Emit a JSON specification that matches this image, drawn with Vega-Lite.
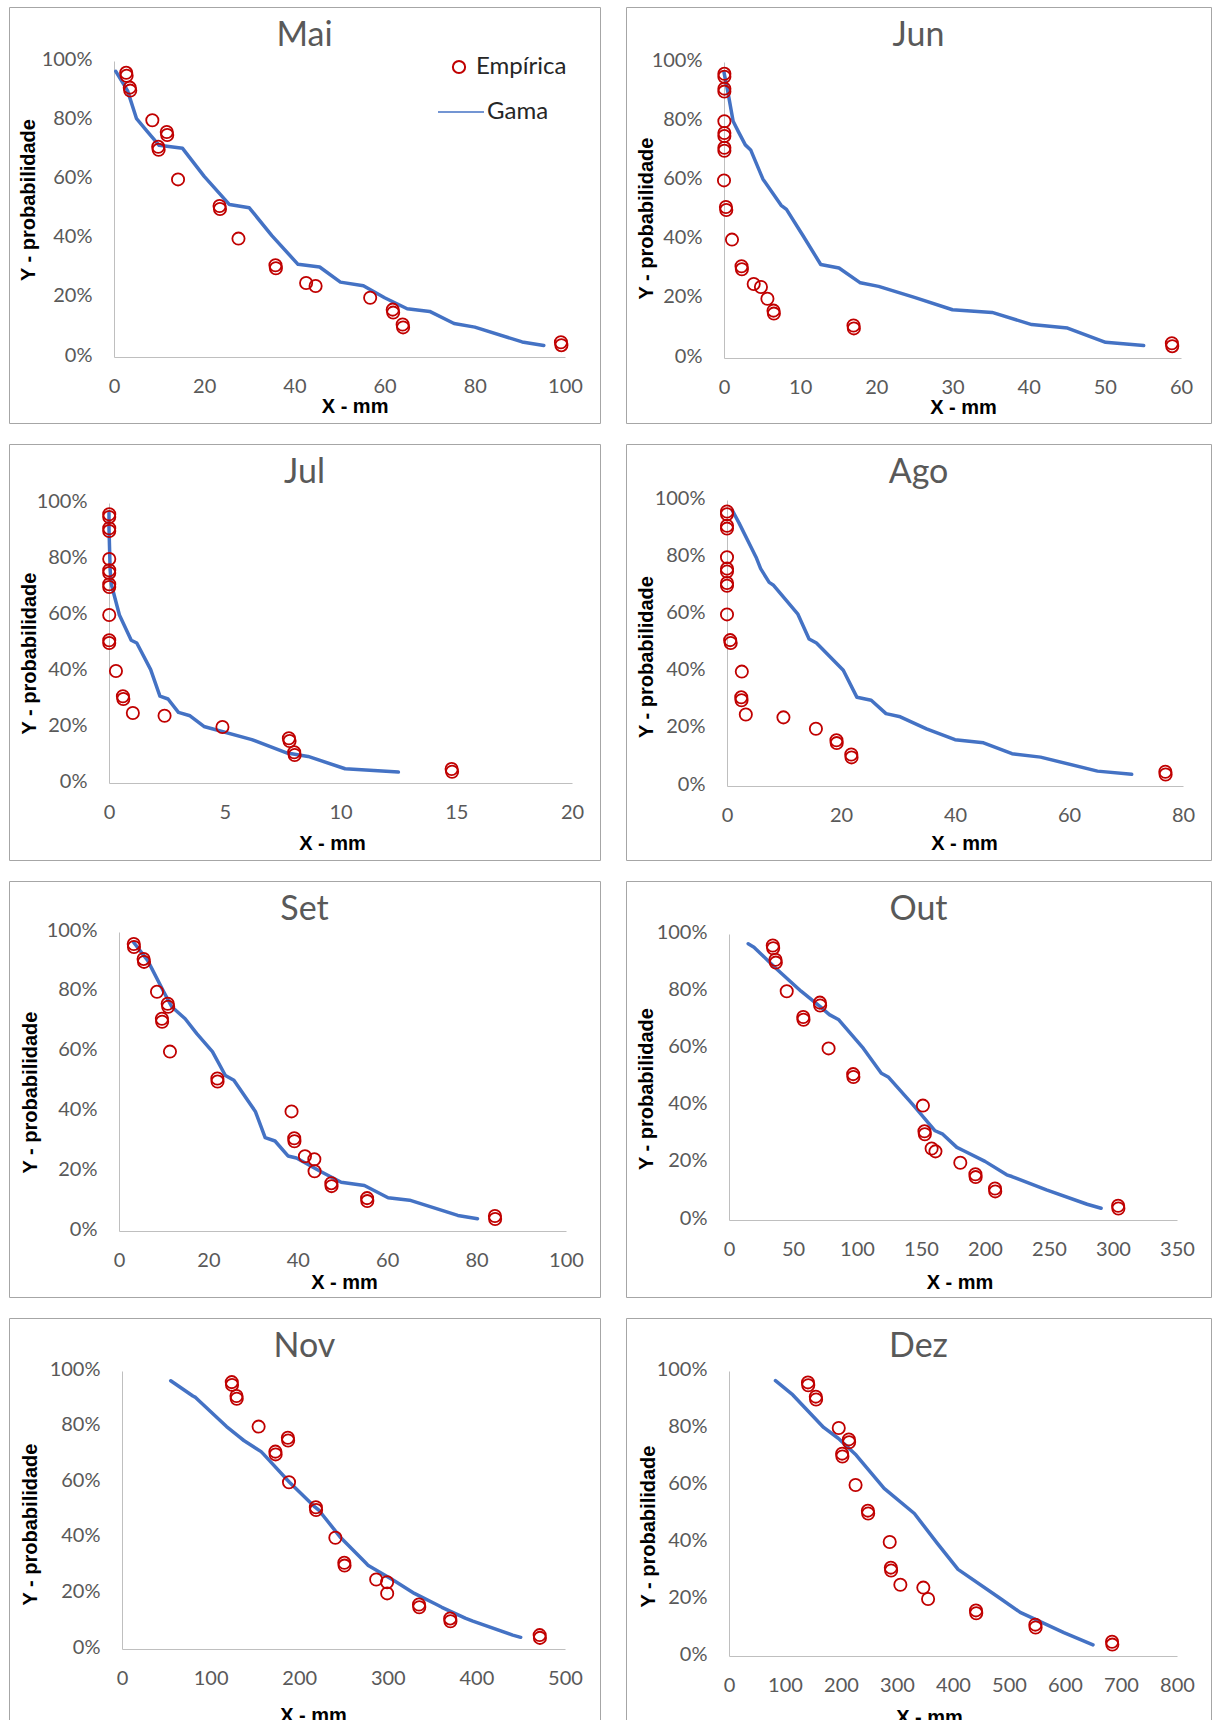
{
"$schema":"https://vega.github.io/schema/vega-lite/v6.json",
"padding":{"left":8,"top":6,"right":0,"bottom":0},
"background":"white",
"spacing":19,
"datasets":{"d":[
{"m":"Mai","s":"Empírica","x":2.7,"y":0.96},{"m":"Mai","s":"Empírica","x":2.8,"y":0.95},{"m":"Mai","s":"Empírica","x":3.5,"y":0.91},{"m":"Mai","s":"Empírica","x":3.6,"y":0.90},{"m":"Mai","s":"Empírica","x":8.5,"y":0.80},{"m":"Mai","s":"Empírica","x":11.7,"y":0.76},{"m":"Mai","s":"Empírica","x":11.8,"y":0.75},{"m":"Mai","s":"Empírica","x":9.8,"y":0.71},{"m":"Mai","s":"Empírica","x":9.9,"y":0.70},{"m":"Mai","s":"Empírica","x":14.2,"y":0.60},{"m":"Mai","s":"Empírica","x":23.4,"y":0.51},{"m":"Mai","s":"Empírica","x":23.5,"y":0.50},{"m":"Mai","s":"Empírica","x":27.6,"y":0.40},{"m":"Mai","s":"Empírica","x":35.8,"y":0.31},{"m":"Mai","s":"Empírica","x":35.9,"y":0.30},{"m":"Mai","s":"Empírica","x":42.6,"y":0.25},{"m":"Mai","s":"Empírica","x":44.7,"y":0.24},{"m":"Mai","s":"Empírica","x":56.8,"y":0.20},{"m":"Mai","s":"Empírica","x":61.8,"y":0.16},{"m":"Mai","s":"Empírica","x":61.9,"y":0.15},{"m":"Mai","s":"Empírica","x":64.0,"y":0.11},{"m":"Mai","s":"Empírica","x":64.1,"y":0.10},{"m":"Mai","s":"Empírica","x":99.1,"y":0.05},{"m":"Mai","s":"Empírica","x":99.2,"y":0.04},
{"m":"Jun","s":"Empírica","x":0.05,"y":0.96},{"m":"Jun","s":"Empírica","x":0.05,"y":0.95},{"m":"Jun","s":"Empírica","x":0.05,"y":0.91},{"m":"Jun","s":"Empírica","x":0.05,"y":0.90},{"m":"Jun","s":"Empírica","x":0.05,"y":0.80},{"m":"Jun","s":"Empírica","x":0.05,"y":0.76},{"m":"Jun","s":"Empírica","x":0.05,"y":0.75},{"m":"Jun","s":"Empírica","x":0.05,"y":0.71},{"m":"Jun","s":"Empírica","x":0.05,"y":0.70},{"m":"Jun","s":"Empírica","x":0.0,"y":0.60},{"m":"Jun","s":"Empírica","x":0.25,"y":0.51},{"m":"Jun","s":"Empírica","x":0.3,"y":0.50},{"m":"Jun","s":"Empírica","x":1.05,"y":0.40},{"m":"Jun","s":"Empírica","x":2.3,"y":0.31},{"m":"Jun","s":"Empírica","x":2.35,"y":0.30},{"m":"Jun","s":"Empírica","x":3.9,"y":0.25},{"m":"Jun","s":"Empírica","x":4.85,"y":0.24},{"m":"Jun","s":"Empírica","x":5.7,"y":0.20},{"m":"Jun","s":"Empírica","x":6.5,"y":0.16},{"m":"Jun","s":"Empírica","x":6.55,"y":0.15},{"m":"Jun","s":"Empírica","x":17.0,"y":0.11},{"m":"Jun","s":"Empírica","x":17.05,"y":0.10},{"m":"Jun","s":"Empírica","x":58.8,"y":0.05},{"m":"Jun","s":"Empírica","x":58.85,"y":0.04},
{"m":"Jul","s":"Empírica","x":0.01,"y":0.96},{"m":"Jul","s":"Empírica","x":0.01,"y":0.95},{"m":"Jul","s":"Empírica","x":0.01,"y":0.91},{"m":"Jul","s":"Empírica","x":0.01,"y":0.90},{"m":"Jul","s":"Empírica","x":0.01,"y":0.80},{"m":"Jul","s":"Empírica","x":0.01,"y":0.76},{"m":"Jul","s":"Empírica","x":0.01,"y":0.75},{"m":"Jul","s":"Empírica","x":0.01,"y":0.71},{"m":"Jul","s":"Empírica","x":0.01,"y":0.70},{"m":"Jul","s":"Empírica","x":0.01,"y":0.60},{"m":"Jul","s":"Empírica","x":0.01,"y":0.51},{"m":"Jul","s":"Empírica","x":0.01,"y":0.50},{"m":"Jul","s":"Empírica","x":0.3,"y":0.40},{"m":"Jul","s":"Empírica","x":0.6,"y":0.31},{"m":"Jul","s":"Empírica","x":0.62,"y":0.30},{"m":"Jul","s":"Empírica","x":1.03,"y":0.25},{"m":"Jul","s":"Empírica","x":2.4,"y":0.24},{"m":"Jul","s":"Empírica","x":4.9,"y":0.20},{"m":"Jul","s":"Empírica","x":7.77,"y":0.16},{"m":"Jul","s":"Empírica","x":7.8,"y":0.15},{"m":"Jul","s":"Empírica","x":8.0,"y":0.11},{"m":"Jul","s":"Empírica","x":8.02,"y":0.10},{"m":"Jul","s":"Empírica","x":14.8,"y":0.05},{"m":"Jul","s":"Empírica","x":14.82,"y":0.04},
{"m":"Ago","s":"Empírica","x":0.0,"y":0.96},{"m":"Ago","s":"Empírica","x":0.0,"y":0.95},{"m":"Ago","s":"Empírica","x":0.0,"y":0.91},{"m":"Ago","s":"Empírica","x":0.0,"y":0.90},{"m":"Ago","s":"Empírica","x":0.0,"y":0.80},{"m":"Ago","s":"Empírica","x":0.0,"y":0.76},{"m":"Ago","s":"Empírica","x":0.0,"y":0.75},{"m":"Ago","s":"Empírica","x":0.0,"y":0.71},{"m":"Ago","s":"Empírica","x":0.0,"y":0.70},{"m":"Ago","s":"Empírica","x":0.0,"y":0.60},{"m":"Ago","s":"Empírica","x":0.55,"y":0.51},{"m":"Ago","s":"Empírica","x":0.65,"y":0.50},{"m":"Ago","s":"Empírica","x":2.6,"y":0.40},{"m":"Ago","s":"Empírica","x":2.5,"y":0.31},{"m":"Ago","s":"Empírica","x":2.55,"y":0.30},{"m":"Ago","s":"Empírica","x":3.3,"y":0.25},{"m":"Ago","s":"Empírica","x":9.9,"y":0.24},{"m":"Ago","s":"Empírica","x":15.6,"y":0.20},{"m":"Ago","s":"Empírica","x":19.2,"y":0.16},{"m":"Ago","s":"Empírica","x":19.25,"y":0.15},{"m":"Ago","s":"Empírica","x":21.8,"y":0.11},{"m":"Ago","s":"Empírica","x":21.85,"y":0.10},{"m":"Ago","s":"Empírica","x":76.9,"y":0.05},{"m":"Ago","s":"Empírica","x":76.95,"y":0.04},
{"m":"Set","s":"Empírica","x":3.3,"y":0.96},{"m":"Set","s":"Empírica","x":3.35,"y":0.95},{"m":"Set","s":"Empírica","x":5.5,"y":0.91},{"m":"Set","s":"Empírica","x":5.6,"y":0.90},{"m":"Set","s":"Empírica","x":8.5,"y":0.80},{"m":"Set","s":"Empírica","x":10.9,"y":0.76},{"m":"Set","s":"Empírica","x":11.0,"y":0.75},{"m":"Set","s":"Empírica","x":9.6,"y":0.71},{"m":"Set","s":"Empírica","x":9.65,"y":0.70},{"m":"Set","s":"Empírica","x":11.4,"y":0.60},{"m":"Set","s":"Empírica","x":22.0,"y":0.51},{"m":"Set","s":"Empírica","x":22.05,"y":0.50},{"m":"Set","s":"Empírica","x":38.6,"y":0.40},{"m":"Set","s":"Empírica","x":39.2,"y":0.31},{"m":"Set","s":"Empírica","x":39.25,"y":0.30},{"m":"Set","s":"Empírica","x":41.6,"y":0.25},{"m":"Set","s":"Empírica","x":43.7,"y":0.24},{"m":"Set","s":"Empírica","x":43.75,"y":0.20},{"m":"Set","s":"Empírica","x":47.5,"y":0.16},{"m":"Set","s":"Empírica","x":47.55,"y":0.15},{"m":"Set","s":"Empírica","x":55.5,"y":0.11},{"m":"Set","s":"Empírica","x":55.55,"y":0.10},{"m":"Set","s":"Empírica","x":84.1,"y":0.05},{"m":"Set","s":"Empírica","x":84.15,"y":0.04},
{"m":"Out","s":"Empírica","x":34.2,"y":0.96},{"m":"Out","s":"Empírica","x":34.5,"y":0.95},{"m":"Out","s":"Empírica","x":36.3,"y":0.91},{"m":"Out","s":"Empírica","x":36.6,"y":0.90},{"m":"Out","s":"Empírica","x":45.1,"y":0.80},{"m":"Out","s":"Empírica","x":71.0,"y":0.76},{"m":"Out","s":"Empírica","x":71.2,"y":0.75},{"m":"Out","s":"Empírica","x":58.0,"y":0.71},{"m":"Out","s":"Empírica","x":58.2,"y":0.70},{"m":"Out","s":"Empírica","x":77.8,"y":0.60},{"m":"Out","s":"Empírica","x":97.0,"y":0.51},{"m":"Out","s":"Empírica","x":97.2,"y":0.50},{"m":"Out","s":"Empírica","x":151.5,"y":0.40},{"m":"Out","s":"Empírica","x":152.7,"y":0.31},{"m":"Out","s":"Empírica","x":153.0,"y":0.30},{"m":"Out","s":"Empírica","x":158.3,"y":0.25},{"m":"Out","s":"Empírica","x":161.3,"y":0.24},{"m":"Out","s":"Empírica","x":180.7,"y":0.20},{"m":"Out","s":"Empírica","x":192.5,"y":0.16},{"m":"Out","s":"Empírica","x":192.7,"y":0.15},{"m":"Out","s":"Empírica","x":207.8,"y":0.11},{"m":"Out","s":"Empírica","x":208.0,"y":0.10},{"m":"Out","s":"Empírica","x":304.0,"y":0.05},{"m":"Out","s":"Empírica","x":304.2,"y":0.04},
{"m":"Nov","s":"Empírica","x":123.9,"y":0.96},{"m":"Nov","s":"Empírica","x":124.2,"y":0.95},{"m":"Nov","s":"Empírica","x":129.2,"y":0.91},{"m":"Nov","s":"Empírica","x":129.5,"y":0.90},{"m":"Nov","s":"Empírica","x":154.2,"y":0.80},{"m":"Nov","s":"Empírica","x":187.2,"y":0.76},{"m":"Nov","s":"Empírica","x":187.5,"y":0.75},{"m":"Nov","s":"Empírica","x":173.1,"y":0.71},{"m":"Nov","s":"Empírica","x":173.4,"y":0.70},{"m":"Nov","s":"Empírica","x":188.5,"y":0.60},{"m":"Nov","s":"Empírica","x":218.8,"y":0.51},{"m":"Nov","s":"Empírica","x":219.1,"y":0.50},{"m":"Nov","s":"Empírica","x":240.8,"y":0.40},{"m":"Nov","s":"Empírica","x":250.9,"y":0.31},{"m":"Nov","s":"Empírica","x":251.2,"y":0.30},{"m":"Nov","s":"Empírica","x":286.9,"y":0.25},{"m":"Nov","s":"Empírica","x":299.2,"y":0.24},{"m":"Nov","s":"Empírica","x":299.3,"y":0.20},{"m":"Nov","s":"Empírica","x":335.2,"y":0.16},{"m":"Nov","s":"Empírica","x":335.5,"y":0.15},{"m":"Nov","s":"Empírica","x":370.4,"y":0.11},{"m":"Nov","s":"Empírica","x":370.7,"y":0.10},{"m":"Nov","s":"Empírica","x":471.4,"y":0.05},{"m":"Nov","s":"Empírica","x":471.7,"y":0.04},
{"m":"Dez","s":"Empírica","x":141.0,"y":0.96},{"m":"Dez","s":"Empírica","x":141.5,"y":0.95},{"m":"Dez","s":"Empírica","x":155.0,"y":0.91},{"m":"Dez","s":"Empírica","x":155.5,"y":0.90},{"m":"Dez","s":"Empírica","x":196.0,"y":0.80},{"m":"Dez","s":"Empírica","x":214.0,"y":0.76},{"m":"Dez","s":"Empírica","x":214.5,"y":0.75},{"m":"Dez","s":"Empírica","x":202.0,"y":0.71},{"m":"Dez","s":"Empírica","x":202.5,"y":0.70},{"m":"Dez","s":"Empírica","x":226.0,"y":0.60},{"m":"Dez","s":"Empírica","x":248.0,"y":0.51},{"m":"Dez","s":"Empírica","x":248.5,"y":0.50},{"m":"Dez","s":"Empírica","x":287.0,"y":0.40},{"m":"Dez","s":"Empírica","x":289.0,"y":0.31},{"m":"Dez","s":"Empírica","x":289.5,"y":0.30},{"m":"Dez","s":"Empírica","x":306.0,"y":0.25},{"m":"Dez","s":"Empírica","x":347.0,"y":0.24},{"m":"Dez","s":"Empírica","x":355.5,"y":0.20},{"m":"Dez","s":"Empírica","x":441.0,"y":0.16},{"m":"Dez","s":"Empírica","x":441.5,"y":0.15},{"m":"Dez","s":"Empírica","x":547.0,"y":0.11},{"m":"Dez","s":"Empírica","x":547.5,"y":0.10},{"m":"Dez","s":"Empírica","x":684.0,"y":0.05},{"m":"Dez","s":"Empírica","x":684.5,"y":0.04},
{"m":"Mai","s":"Gama","x":0.4,"y":0.965},{"m":"Mai","s":"Gama","x":3,"y":0.90},{"m":"Mai","s":"Gama","x":5,"y":0.805},{"m":"Mai","s":"Gama","x":7.5,"y":0.76},{"m":"Mai","s":"Gama","x":10,"y":0.715},{"m":"Mai","s":"Gama","x":15.2,"y":0.705},{"m":"Mai","s":"Gama","x":20,"y":0.61},{"m":"Mai","s":"Gama","x":25.6,"y":0.515},{"m":"Mai","s":"Gama","x":30,"y":0.504},{"m":"Mai","s":"Gama","x":35,"y":0.41},{"m":"Mai","s":"Gama","x":40.8,"y":0.313},{"m":"Mai","s":"Gama","x":45.6,"y":0.304},{"m":"Mai","s":"Gama","x":50.2,"y":0.253},{"m":"Mai","s":"Gama","x":55.3,"y":0.241},{"m":"Mai","s":"Gama","x":60,"y":0.20},{"m":"Mai","s":"Gama","x":65,"y":0.163},{"m":"Mai","s":"Gama","x":70,"y":0.154},{"m":"Mai","s":"Gama","x":75.4,"y":0.113},{"m":"Mai","s":"Gama","x":80,"y":0.101},{"m":"Mai","s":"Gama","x":90.5,"y":0.051},{"m":"Mai","s":"Gama","x":95.3,"y":0.039},
{"m":"Jun","s":"Gama","x":0,"y":0.965},{"m":"Jun","s":"Gama","x":0.5,"y":0.90},{"m":"Jun","s":"Gama","x":1.2,"y":0.80},{"m":"Jun","s":"Gama","x":1.9,"y":0.764},{"m":"Jun","s":"Gama","x":2.8,"y":0.72},{"m":"Jun","s":"Gama","x":3.5,"y":0.703},{"m":"Jun","s":"Gama","x":5.1,"y":0.605},{"m":"Jun","s":"Gama","x":7.5,"y":0.516},{"m":"Jun","s":"Gama","x":8.2,"y":0.502},{"m":"Jun","s":"Gama","x":10.4,"y":0.412},{"m":"Jun","s":"Gama","x":12.7,"y":0.316},{"m":"Jun","s":"Gama","x":15.1,"y":0.304},{"m":"Jun","s":"Gama","x":17.9,"y":0.254},{"m":"Jun","s":"Gama","x":20.3,"y":0.242},{"m":"Jun","s":"Gama","x":25,"y":0.205},{"m":"Jun","s":"Gama","x":30,"y":0.163},{"m":"Jun","s":"Gama","x":35.2,"y":0.154},{"m":"Jun","s":"Gama","x":40.4,"y":0.113},{"m":"Jun","s":"Gama","x":45.1,"y":0.101},{"m":"Jun","s":"Gama","x":50.1,"y":0.053},{"m":"Jun","s":"Gama","x":55.1,"y":0.042},
{"m":"Jul","s":"Gama","x":0,"y":0.965},{"m":"Jul","s":"Gama","x":0,"y":0.91},{"m":"Jul","s":"Gama","x":0.05,"y":0.76},{"m":"Jul","s":"Gama","x":0.1,"y":0.71},{"m":"Jul","s":"Gama","x":0.45,"y":0.60},{"m":"Jul","s":"Gama","x":0.96,"y":0.51},{"m":"Jul","s":"Gama","x":1.2,"y":0.50},{"m":"Jul","s":"Gama","x":1.8,"y":0.405},{"m":"Jul","s":"Gama","x":2.2,"y":0.31},{"m":"Jul","s":"Gama","x":2.55,"y":0.30},{"m":"Jul","s":"Gama","x":3.0,"y":0.252},{"m":"Jul","s":"Gama","x":3.5,"y":0.24},{"m":"Jul","s":"Gama","x":4.1,"y":0.202},{"m":"Jul","s":"Gama","x":6.17,"y":0.155},{"m":"Jul","s":"Gama","x":7.7,"y":0.107},{"m":"Jul","s":"Gama","x":8.6,"y":0.095},{"m":"Jul","s":"Gama","x":10.2,"y":0.051},{"m":"Jul","s":"Gama","x":12.5,"y":0.039},
{"m":"Ago","s":"Gama","x":0.9,"y":0.965},{"m":"Ago","s":"Gama","x":2.1,"y":0.92},{"m":"Ago","s":"Gama","x":5.1,"y":0.80},{"m":"Ago","s":"Gama","x":5.9,"y":0.76},{"m":"Ago","s":"Gama","x":7.4,"y":0.712},{"m":"Ago","s":"Gama","x":8.1,"y":0.703},{"m":"Ago","s":"Gama","x":12.4,"y":0.602},{"m":"Ago","s":"Gama","x":14.4,"y":0.514},{"m":"Ago","s":"Gama","x":15.7,"y":0.50},{"m":"Ago","s":"Gama","x":20.4,"y":0.405},{"m":"Ago","s":"Gama","x":22.8,"y":0.31},{"m":"Ago","s":"Gama","x":25.3,"y":0.30},{"m":"Ago","s":"Gama","x":27.9,"y":0.253},{"m":"Ago","s":"Gama","x":30.4,"y":0.242},{"m":"Ago","s":"Gama","x":35,"y":0.20},{"m":"Ago","s":"Gama","x":40,"y":0.162},{"m":"Ago","s":"Gama","x":45,"y":0.151},{"m":"Ago","s":"Gama","x":50,"y":0.113},{"m":"Ago","s":"Gama","x":55,"y":0.101},{"m":"Ago","s":"Gama","x":65,"y":0.052},{"m":"Ago","s":"Gama","x":71,"y":0.041},
{"m":"Set","s":"Gama","x":3.3,"y":0.965},{"m":"Set","s":"Gama","x":6.4,"y":0.905},{"m":"Set","s":"Gama","x":10,"y":0.80},{"m":"Set","s":"Gama","x":11.8,"y":0.75},{"m":"Set","s":"Gama","x":14.8,"y":0.71},{"m":"Set","s":"Gama","x":17.4,"y":0.66},{"m":"Set","s":"Gama","x":20.9,"y":0.60},{"m":"Set","s":"Gama","x":23.8,"y":0.52},{"m":"Set","s":"Gama","x":25.7,"y":0.504},{"m":"Set","s":"Gama","x":30.5,"y":0.40},{"m":"Set","s":"Gama","x":32.7,"y":0.312},{"m":"Set","s":"Gama","x":34.9,"y":0.301},{"m":"Set","s":"Gama","x":37.8,"y":0.251},{"m":"Set","s":"Gama","x":39.7,"y":0.244},{"m":"Set","s":"Gama","x":45,"y":0.20},{"m":"Set","s":"Gama","x":49.7,"y":0.163},{"m":"Set","s":"Gama","x":54.9,"y":0.152},{"m":"Set","s":"Gama","x":60.2,"y":0.111},{"m":"Set","s":"Gama","x":65,"y":0.103},{"m":"Set","s":"Gama","x":75.8,"y":0.052},{"m":"Set","s":"Gama","x":80.2,"y":0.041},
{"m":"Out","s":"Gama","x":15,"y":0.966},{"m":"Out","s":"Gama","x":19.5,"y":0.954},{"m":"Out","s":"Gama","x":35.7,"y":0.884},{"m":"Out","s":"Gama","x":56.3,"y":0.80},{"m":"Out","s":"Gama","x":71,"y":0.747},{"m":"Out","s":"Gama","x":78.4,"y":0.718},{"m":"Out","s":"Gama","x":85.8,"y":0.70},{"m":"Out","s":"Gama","x":105,"y":0.60},{"m":"Out","s":"Gama","x":119,"y":0.513},{"m":"Out","s":"Gama","x":124.7,"y":0.499},{"m":"Out","s":"Gama","x":143.3,"y":0.405},{"m":"Out","s":"Gama","x":161,"y":0.312},{"m":"Out","s":"Gama","x":167,"y":0.30},{"m":"Out","s":"Gama","x":178,"y":0.254},{"m":"Out","s":"Gama","x":183,"y":0.243},{"m":"Out","s":"Gama","x":200,"y":0.205},{"m":"Out","s":"Gama","x":217,"y":0.158},{"m":"Out","s":"Gama","x":221,"y":0.152},{"m":"Out","s":"Gama","x":248,"y":0.105},{"m":"Out","s":"Gama","x":279.8,"y":0.055},{"m":"Out","s":"Gama","x":290.7,"y":0.041},
{"m":"Nov","s":"Gama","x":55,"y":0.965},{"m":"Nov","s":"Gama","x":80,"y":0.91},{"m":"Nov","s":"Gama","x":83,"y":0.905},{"m":"Nov","s":"Gama","x":118,"y":0.80},{"m":"Nov","s":"Gama","x":133.5,"y":0.76},{"m":"Nov","s":"Gama","x":137.5,"y":0.75},{"m":"Nov","s":"Gama","x":157,"y":0.71},{"m":"Nov","s":"Gama","x":160,"y":0.70},{"m":"Nov","s":"Gama","x":189,"y":0.60},{"m":"Nov","s":"Gama","x":218,"y":0.51},{"m":"Nov","s":"Gama","x":222,"y":0.50},{"m":"Nov","s":"Gama","x":247,"y":0.40},{"m":"Nov","s":"Gama","x":275,"y":0.31},{"m":"Nov","s":"Gama","x":278,"y":0.30},{"m":"Nov","s":"Gama","x":305,"y":0.25},{"m":"Nov","s":"Gama","x":310,"y":0.24},{"m":"Nov","s":"Gama","x":330,"y":0.20},{"m":"Nov","s":"Gama","x":355,"y":0.16},{"m":"Nov","s":"Gama","x":361,"y":0.15},{"m":"Nov","s":"Gama","x":388,"y":0.11},{"m":"Nov","s":"Gama","x":396,"y":0.10},{"m":"Nov","s":"Gama","x":441,"y":0.05},{"m":"Nov","s":"Gama","x":450,"y":0.042},
{"m":"Dez","s":"Gama","x":83,"y":0.966},{"m":"Dez","s":"Gama","x":114,"y":0.916},{"m":"Dez","s":"Gama","x":169,"y":0.802},{"m":"Dez","s":"Gama","x":195,"y":0.764},{"m":"Dez","s":"Gama","x":227,"y":0.705},{"m":"Dez","s":"Gama","x":277,"y":0.588},{"m":"Dez","s":"Gama","x":331,"y":0.50},{"m":"Dez","s":"Gama","x":372,"y":0.395},{"m":"Dez","s":"Gama","x":409,"y":0.304},{"m":"Dez","s":"Gama","x":480,"y":0.208},{"m":"Dez","s":"Gama","x":520,"y":0.153},{"m":"Dez","s":"Gama","x":550,"y":0.126},{"m":"Dez","s":"Gama","x":598,"y":0.082},{"m":"Dez","s":"Gama","x":650,"y":0.039}
]},
"vconcat":[
{"hconcat":[
{"width":591,"height":416,"title":"Mai","data":{"name":"d"},"transform":[{"filter":"datum.m=='Mai'"}],
"encoding":{"x":{"field":"x","type":"quantitative","scale":{"domain":[0,100],"range":[105,556],"nice":false,"zero":false},"axis":{"values":[0,20,40,60,80,100],"offset":-66,"title":"X - mm","titleX":345.6,"titleY":49}},
"y":{"field":"y","type":"quantitative","scale":{"domain":[0,1],"range":[350,54],"nice":false,"zero":false},"axis":{"values":[0,0.2,0.4,0.6,0.8,1],"format":".0%","offset":-105,"title":"Y - probabilidade","titleX":-85.5,"titleY":192.5}}},
"layer":[
{"transform":[{"filter":"datum.s=='Gama'"}],"mark":{"type":"line","strokeWidth":3.5,"strokeCap":"round","strokeJoin":"round"},"encoding":{"order":{"field":"y","type":"quantitative","sort":"descending"},"color":{"field":"s","type":"nominal","scale":{"domain":["Gama"],"range":["#4472c4"]},"legend":{"title":null,"orient":"none","legendX":428,"legendY":81,"symbolType":"stroke","symbolSize":2116,"symbolStrokeWidth":1.5,"labelFont":"Lato","labelFontSize":24,"labelColor":"#262626","labelOffset":2}}}},
{"transform":[{"filter":"datum.s=='Empírica'"}],"mark":{"type":"point","filled":false,"size":150,"strokeWidth":1.8,"opacity":1},"encoding":{"stroke":{"field":"s","type":"nominal","scale":{"domain":["Empírica"],"range":["#c00000"]},"legend":{"title":null,"orient":"none","legendX":438,"legendY":48,"symbolType":"circle","symbolSize":150,"symbolStrokeWidth":2,"symbolFillColor":"transparent","labelFont":"Lato","labelFontSize":24,"labelColor":"#262626","labelOffset":5}}}}
]},
{"width":585,"height":416,"title":"Jun","data":{"name":"d"},"transform":[{"filter":"datum.m=='Jun'"}],
"encoding":{"x":{"field":"x","type":"quantitative","scale":{"domain":[0,60],"range":[98,555],"nice":false,"zero":false},"axis":{"values":[0,10,20,30,40,50,60],"offset":-65,"title":"X - mm","titleX":337,"titleY":49}},
"y":{"field":"y","type":"quantitative","scale":{"domain":[0,1],"range":[351,55],"nice":false,"zero":false},"axis":{"values":[0,0.2,0.4,0.6,0.8,1],"format":".0%","offset":-98,"title":"Y - probabilidade","titleX":-78,"titleY":211}}},
"layer":[
{"transform":[{"filter":"datum.s=='Gama'"}],"mark":{"type":"line","color":"#4472c4","strokeWidth":3.5,"strokeCap":"round","strokeJoin":"round"},"encoding":{"order":{"field":"y","type":"quantitative","sort":"descending"}}},
{"transform":[{"filter":"datum.s=='Empírica'"}],"mark":{"type":"point","filled":false,"size":150,"strokeWidth":1.8,"opacity":1,"color":"#c00000"}}
]}
],"spacing":26,"bounds":"flush"},
{"hconcat":[
{"width":591,"height":416,"title":"Jul","data":{"name":"d"},"transform":[{"filter":"datum.m=='Jul'"}],
"encoding":{"x":{"field":"x","type":"quantitative","scale":{"domain":[0,20],"range":[100,563],"nice":false,"zero":false},"axis":{"values":[0,5,10,15,20],"offset":-77,"title":"X - mm","titleX":323,"titleY":60}},
"y":{"field":"y","type":"quantitative","scale":{"domain":[0,1],"range":[339,59],"nice":false,"zero":false},"axis":{"values":[0,0.2,0.4,0.6,0.8,1],"format":".0%","offset":-100,"title":"Y - probabilidade","titleX":-79.5,"titleY":209}}},
"layer":[
{"transform":[{"filter":"datum.s=='Gama'"}],"mark":{"type":"line","color":"#4472c4","strokeWidth":3.5,"strokeCap":"round","strokeJoin":"round"},"encoding":{"order":{"field":"y","type":"quantitative","sort":"descending"}}},
{"transform":[{"filter":"datum.s=='Empírica'"}],"mark":{"type":"point","filled":false,"size":150,"strokeWidth":1.8,"opacity":1,"color":"#c00000"}}
]},
{"width":585,"height":416,"title":"Ago","data":{"name":"d"},"transform":[{"filter":"datum.m=='Ago'"}],
"encoding":{"x":{"field":"x","type":"quantitative","scale":{"domain":[0,80],"range":[101,557],"nice":false,"zero":false},"axis":{"values":[0,20,40,60,80],"offset":-74,"title":"X - mm","titleX":338,"titleY":57}},
"y":{"field":"y","type":"quantitative","scale":{"domain":[0,1],"range":[342,56],"nice":false,"zero":false},"axis":{"values":[0,0.2,0.4,0.6,0.8,1],"format":".0%","offset":-101,"title":"Y - probabilidade","titleX":-80.5,"titleY":212.5}}},
"layer":[
{"transform":[{"filter":"datum.s=='Gama'"}],"mark":{"type":"line","color":"#4472c4","strokeWidth":3.5,"strokeCap":"round","strokeJoin":"round"},"encoding":{"order":{"field":"y","type":"quantitative","sort":"descending"}}},
{"transform":[{"filter":"datum.s=='Empírica'"}],"mark":{"type":"point","filled":false,"size":150,"strokeWidth":1.8,"opacity":1,"color":"#c00000"}}
]}
],"spacing":26,"bounds":"flush"},
{"hconcat":[
{"width":591,"height":416,"title":"Set","data":{"name":"d"},"transform":[{"filter":"datum.m=='Set'"}],
"encoding":{"x":{"field":"x","type":"quantitative","scale":{"domain":[0,100],"range":[110,557],"nice":false,"zero":false},"axis":{"values":[0,20,40,60,80,100],"offset":-66,"title":"X - mm","titleX":335,"titleY":51}},
"y":{"field":"y","type":"quantitative","scale":{"domain":[0,1],"range":[350,51],"nice":false,"zero":false},"axis":{"values":[0,0.2,0.4,0.6,0.8,1],"format":".0%","offset":-110,"title":"Y - probabilidade","titleX":-88.5,"titleY":211}}},
"layer":[
{"transform":[{"filter":"datum.s=='Gama'"}],"mark":{"type":"line","color":"#4472c4","strokeWidth":3.5,"strokeCap":"round","strokeJoin":"round"},"encoding":{"order":{"field":"y","type":"quantitative","sort":"descending"}}},
{"transform":[{"filter":"datum.s=='Empírica'"}],"mark":{"type":"point","filled":false,"size":150,"strokeWidth":1.8,"opacity":1,"color":"#c00000"}}
]},
{"width":585,"height":416,"title":"Out","data":{"name":"d"},"transform":[{"filter":"datum.m=='Out'"}],
"encoding":{"x":{"field":"x","type":"quantitative","scale":{"domain":[0,350],"range":[103,551],"nice":false,"zero":false},"axis":{"values":[0,50,100,150,200,250,300,350],"offset":-77,"title":"X - mm","titleX":333.5,"titleY":62}},
"y":{"field":"y","type":"quantitative","scale":{"domain":[0,1],"range":[339,53],"nice":false,"zero":false},"axis":{"values":[0,0.2,0.4,0.6,0.8,1],"format":".0%","offset":-103,"title":"Y - probabilidade","titleX":-82.5,"titleY":207.5}}},
"layer":[
{"transform":[{"filter":"datum.s=='Gama'"}],"mark":{"type":"line","color":"#4472c4","strokeWidth":3.5,"strokeCap":"round","strokeJoin":"round"},"encoding":{"order":{"field":"y","type":"quantitative","sort":"descending"}}},
{"transform":[{"filter":"datum.s=='Empírica'"}],"mark":{"type":"point","filled":false,"size":150,"strokeWidth":1.8,"opacity":1,"color":"#c00000"}}
]}
],"spacing":26,"bounds":"flush"},
{"hconcat":[
{"width":591,"height":416,"title":"Nov","data":{"name":"d"},"transform":[{"filter":"datum.m=='Nov'"}],
"encoding":{"x":{"field":"x","type":"quantitative","scale":{"domain":[0,500],"range":[113,556],"nice":false,"zero":false},"axis":{"values":[0,100,200,300,400,500],"offset":-85,"title":"X - mm","titleX":304,"titleY":66}},
"y":{"field":"y","type":"quantitative","scale":{"domain":[0,1],"range":[331,53],"nice":false,"zero":false},"axis":{"values":[0,0.2,0.4,0.6,0.8,1],"format":".0%","offset":-113,"title":"Y - probabilidade","titleX":-91.5,"titleY":206}}},
"layer":[
{"transform":[{"filter":"datum.s=='Gama'"}],"mark":{"type":"line","color":"#4472c4","strokeWidth":3.5,"strokeCap":"round","strokeJoin":"round"},"encoding":{"order":{"field":"y","type":"quantitative","sort":"descending"}}},
{"transform":[{"filter":"datum.s=='Empírica'"}],"mark":{"type":"point","filled":false,"size":150,"strokeWidth":1.8,"opacity":1,"color":"#c00000"}}
]},
{"width":585,"height":416,"title":"Dez","data":{"name":"d"},"transform":[{"filter":"datum.m=='Dez'"}],
"encoding":{"x":{"field":"x","type":"quantitative","scale":{"domain":[0,800],"range":[103,551],"nice":false,"zero":false},"axis":{"values":[0,100,200,300,400,500,600,700,800],"offset":-78,"title":"X - mm","titleX":303,"titleY":61}},
"y":{"field":"y","type":"quantitative","scale":{"domain":[0,1],"range":[338,53],"nice":false,"zero":false},"axis":{"values":[0,0.2,0.4,0.6,0.8,1],"format":".0%","offset":-103,"title":"Y - probabilidade","titleX":-80.5,"titleY":208}}},
"layer":[
{"transform":[{"filter":"datum.s=='Gama'"}],"mark":{"type":"line","color":"#4472c4","strokeWidth":3.5,"strokeCap":"round","strokeJoin":"round"},"encoding":{"order":{"field":"y","type":"quantitative","sort":"descending"}}},
{"transform":[{"filter":"datum.s=='Empírica'"}],"mark":{"type":"point","filled":false,"size":150,"strokeWidth":1.8,"opacity":1,"color":"#c00000"}}
]}
],"spacing":26,"bounds":"flush"}
],
"config":{
"view":{"stroke":"#a6a6a6","strokeWidth":1},
"font":"Lato",
"title":{"font":"Lato","fontSize":34,"fontWeight":"normal","color":"#595959","anchor":"middle","frame":"group","offset":-46,"baseline":"alphabetic"},
"axis":{"grid":false,"ticks":false,"tickSize":0,"domainColor":"#bfbfbf","domainWidth":1,"labelFont":"Lato","labelFontSize":20,"labelColor":"#595959","titleFont":"Liberation Sans","titleFontSize":20,"titleFontWeight":"bold","titleColor":"#000000","labelFlush":false,"labelOverlap":false,"labelBound":false,"titleAlign":"center","titleBaseline":"middle"},
"axisX":{"labelPadding":29,"labelBaseline":"middle","titleAngle":0},
"axisY":{"labelPadding":22,"labelOffset":-2,"titleAngle":-90}
}
}
